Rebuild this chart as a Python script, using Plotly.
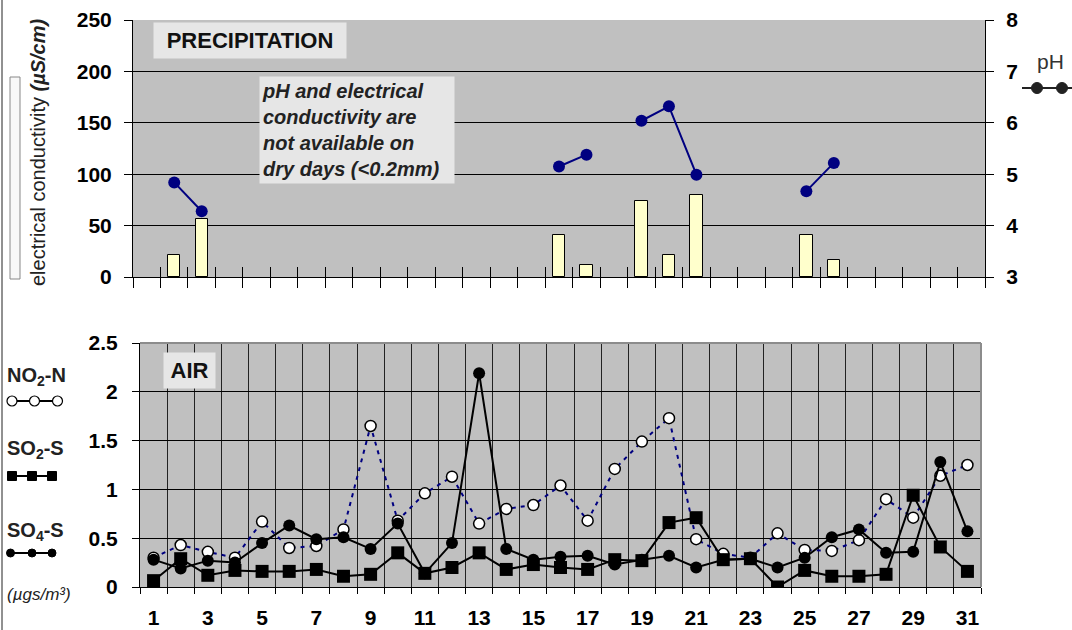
import plotly.graph_objects as go

# ---------------- data ----------------
days = list(range(1, 32))
conductivity = [None, 21, 56, None, None, None, None, None, None, None,
                None, None, None, None, None, 41, 12, None, 74, 21,
                80, None, None, None, 41, 17, None, None, None, None, None]
ph = [None, 4.84, 4.28, None, None, None, None, None, None, None,
      None, None, None, None, None, 5.15, 5.38, None, 6.04, 6.32,
      4.99, None, None, None, 4.67, 5.22, None, None, None, None, None]
no2_n = [0.30, 0.43, 0.36, 0.30, 0.67, 0.40, 0.42, 0.59, 1.65, 0.68,
         0.96, 1.13, 0.65, 0.80, 0.84, 1.04, 0.68, 1.21, 1.49, 1.73,
         0.49, 0.34, 0.30, 0.55, 0.38, 0.37, 0.48, 0.90, 0.71, 1.14, 1.25]
so2_s = [0.065, 0.29, 0.12, 0.17, 0.16, 0.16, 0.18, 0.11, 0.13, 0.35,
         0.14, 0.20, 0.35, 0.18, 0.23, 0.20, 0.18, 0.28, 0.27, 0.66,
         0.71, 0.28, 0.29, 0.0, 0.17, 0.11, 0.11, 0.13, 0.94, 0.41, 0.16]
so4_s = [0.28, 0.19, 0.27, 0.25, 0.45, 0.63, 0.49, 0.51, 0.39, 0.65,
         0.14, 0.45, 2.19, 0.39, 0.28, 0.31, 0.32, 0.23, 0.28, 0.32,
         0.20, 0.28, 0.29, 0.20, 0.30, 0.51, 0.59, 0.35, 0.36, 1.28, 0.57]
x_tick_vals = [1, 3, 5, 7, 9, 11, 13, 15, 17, 19, 21, 23, 25, 27, 29, 31]
x_tick_text = ["1", "3", "5", "7", "9", "11", "13", "15", "17", "19", "21",
               "23", "25", "27", "29", "31"]
day_bounds = [d - 0.5 for d in days] + [31.5]

# ---------------- layout helpers ----------------
W, H = 1072, 630
def px(x):
    return x / W
def py(y):
    return 1 - y / H

FONT = "Liberation Sans, Arial, sans-serif"
BG = "#C0C0C0"
NAVY = "#000080"

top_x = [px(133), px(985)]
top_y = [py(277), py(20)]
bot_x = [px(140), px(981)]
bot_y = [py(587), py(343)]

tickfont_b = dict(family=FONT, size=21, color="black", weight="bold")

fig = go.Figure()

# helper (invisible) traces so that the overlay axes get drawn
fig.add_trace(go.Scatter(x=days, y=conductivity, xaxis="x4", yaxis="y", mode="markers",
                         marker=dict(opacity=0), hoverinfo="skip", showlegend=False))
fig.add_trace(go.Scatter(x=days, y=so2_s, xaxis="x3", yaxis="y3", mode="markers",
                         marker=dict(opacity=0), hoverinfo="skip", showlegend=False))

# top panel
fig.add_trace(go.Bar(x=days, y=conductivity, xaxis="x", yaxis="y", width=0.45,
                     marker=dict(color="#FFFFCC", line=dict(color="black", width=1)),
                     showlegend=False))
fig.add_trace(go.Scatter(x=days, y=ph, xaxis="x", yaxis="y2", mode="lines+markers",
                         line=dict(color=NAVY, width=2),
                         marker=dict(color=NAVY, size=12, symbol="circle"),
                         connectgaps=False, showlegend=False))

# bottom panel
fig.add_trace(go.Scatter(x=days, y=no2_n, xaxis="x2", yaxis="y3", mode="lines+markers",
                         line=dict(color=NAVY, width=2, dash="4px,5px"),
                         marker=dict(color="white", size=11, symbol="circle",
                                     line=dict(color="black", width=1.5)),
                         showlegend=False))
fig.add_trace(go.Scatter(x=days, y=so4_s, xaxis="x2", yaxis="y3", mode="lines+markers",
                         line=dict(color="black", width=2),
                         marker=dict(color="black", size=12, symbol="circle"),
                         showlegend=False))
fig.add_trace(go.Scatter(x=days, y=so2_s, xaxis="x2", yaxis="y3", mode="lines+markers",
                         line=dict(color="black", width=2),
                         marker=dict(color="black", size=13, symbol="square"),
                         showlegend=False))

fig.update_layout(
    width=W, height=H,
    margin=dict(l=0, r=0, t=0, b=0, autoexpand=False),
    paper_bgcolor="white",
    plot_bgcolor=BG,
    font=dict(family=FONT, color="black"),
    bargap=0,
    xaxis=dict(domain=top_x, anchor="y", range=[0.5, 31.5], tickmode="array",
               tickvals=day_bounds, showticklabels=False, ticks="outside",
               ticklen=10, tickcolor="black", showgrid=False, zeroline=False,
               showline=True, linecolor="black", linewidth=1, automargin=False),
    xaxis4=dict(domain=top_x, anchor="y", overlaying="x", range=[0.5, 31.5],
                tickmode="array", tickvals=day_bounds, showticklabels=False,
                ticks="inside", ticklen=10, tickcolor="black", showgrid=False,
                zeroline=False, showline=False, automargin=False),
    yaxis=dict(domain=top_y, anchor="x", range=[0, 250], tickmode="array",
               tickvals=[0, 50, 100, 150, 200, 250], ticks="outside", ticklen=8,
               tickcolor="black", showgrid=True, gridcolor="black", gridwidth=1,
               zeroline=False, showline=True, linecolor="black", linewidth=1,
               tickfont=tickfont_b, ticklabelstandoff=8, automargin=False),
    yaxis2=dict(domain=top_y, anchor="x", overlaying="y", side="right",
                range=[3, 8], tickmode="array", tickvals=[3, 4, 5, 6, 7, 8],
                ticks="outside", ticklen=8, tickcolor="black", showgrid=False,
                zeroline=False, showline=True, linecolor="black", linewidth=1,
                tickfont=tickfont_b, ticklabelstandoff=8, automargin=False),
    xaxis2=dict(domain=bot_x, anchor="y3", range=[0.5, 31.5], tickmode="array",
                tickvals=day_bounds, showticklabels=False, ticks="outside",
                ticklen=6, tickcolor="black", showgrid=True, gridcolor="#222222",
                gridwidth=1, zeroline=False, showline=True, linecolor="black",
                linewidth=1, automargin=False),
    xaxis3=dict(domain=bot_x, anchor="y3", overlaying="x2", range=[0.5, 31.5],
                tickmode="array", tickvals=x_tick_vals, ticktext=x_tick_text,
                ticks="", showgrid=False, zeroline=False, showline=False,
                tickfont=tickfont_b, ticklabelstandoff=16, automargin=False),
    yaxis3=dict(domain=bot_y, anchor="x2", range=[0, 2.5], tickmode="array",
                tickvals=[0, 0.5, 1, 1.5, 2, 2.5],
                ticktext=["0", "0.5", "1", "1.5", "2", "2.5"],
                ticks="outside", ticklen=7, tickcolor="black", showgrid=True,
                gridcolor="black", gridwidth=1, zeroline=False, showline=True,
                linecolor="black", linewidth=1, tickfont=tickfont_b,
                ticklabelstandoff=10, automargin=False),
)

ann = []
def add_text(text, x, y, size, bold=False, italic=False, color="#111111",
             bg=None, width=None, height=None, align="center", angle=0,
             xanchor="center", yanchor="middle"):
    d = dict(text=text, x=px(x), y=py(y), xref="paper", yref="paper",
             showarrow=False, xanchor=xanchor, yanchor=yanchor, align=align,
             textangle=angle,
             font=dict(family=FONT, size=size, color=color,
                       weight="bold" if bold else "normal",
                       style="italic" if italic else "normal"))
    if bg:
        d["bgcolor"] = bg
        d["borderpad"] = 2
    if width:
        d["width"] = width
    if height:
        d["height"] = height
    ann.append(d)

add_text("PRECIPITATION", 250, 41, 22, bold=True, bg="#E6E6E6", width=188, height=31)
add_text("pH and electrical<br>conductivity are<br>not available on<br>dry days (&lt;0.2mm)",
         357, 130, 20, bold=True, italic=True, color="#222222", bg="#E6E6E6",
         width=190, height=102, align="left")
add_text("AIR", 189, 370, 22, bold=True, bg="#E6E6E6", width=47, height=31)
add_text("electrical conductivity <b><i>(µS/cm)</i></b>", 38, 152, 20, angle=-90,
         color="#222222")
add_text("pH", 1050, 62, 21, color="#333333")
add_text("NO<sub>2</sub>-N", 36, 376, 20, bold=True, color="#222222")
add_text("SO<sub>2</sub>-S", 35, 449, 20, bold=True, color="#222222")
add_text("SO<sub>4</sub>-S", 35, 531, 20, bold=True, color="#222222")
add_text("(µgs/m³)", 39, 594, 17, italic=True, color="#222222")
fig.update_layout(annotations=ann)

shapes = []
def line(x0, y0, x1, y1, color="black", width=1):
    shapes.append(dict(type="line", xref="paper", yref="paper", x0=px(x0), y0=py(y0),
                       x1=px(x1), y1=py(y1), line=dict(color=color, width=width),
                       layer="above"))
def circle(cx, cy, r, fill, edge="black", width=1):
    shapes.append(dict(type="circle", xref="paper", yref="paper",
                       x0=px(cx - r), x1=px(cx + r), y0=py(cy + r), y1=py(cy - r),
                       fillcolor=fill, line=dict(color=edge, width=width),
                       layer="above"))
def rect(x0, y0, x1, y1, fill, edge="black", width=1):
    shapes.append(dict(type="rect", xref="paper", yref="paper",
                       x0=px(x0), x1=px(x1), y0=py(y1), y1=py(y0),
                       fillcolor=fill, line=dict(color=edge, width=width),
                       layer="above"))

# page left border
line(2, 0, 2, 630, color="#222222", width=1)
# bar legend swatch
rect(10, 77, 20, 279, "#F8F8F8", edge="#888888", width=1)
# pH legend glyph
line(1022, 88, 1072, 88, color="#222222", width=2)
circle(1037, 88, 5.5, "#222222", edge="#222222")
circle(1062, 88, 5.5, "#222222", edge="#222222")
# NO2 legend glyph
line(12, 401, 57, 401, color="black", width=2)
for cx in (12, 34.5, 57.5):
    circle(cx, 401, 5, "white", edge="black", width=1.2)
# SO2 legend glyph
line(12, 476, 52, 476, color="black", width=2)
for cx in (12, 32, 52):
    rect(cx - 4.5, 471.5, cx + 4.5, 480.5, "black", edge="black")
# SO4 legend glyph
line(10, 553, 52, 553, color="black", width=2)
for cx in (10.5, 32, 52):
    circle(cx, 553, 4, "black", edge="black")
# bottom panel top/right border (gray)
line(140, 343, 981, 343, color="#8C8C8C", width=2)
line(981, 343, 981, 587, color="#8C8C8C", width=2)

fig.update_layout(shapes=shapes)

fig.write_html("out.html", config={"displayModeBar": False},
               post_script="document.body.style.margin='0';document.body.style.overflow='hidden';")
